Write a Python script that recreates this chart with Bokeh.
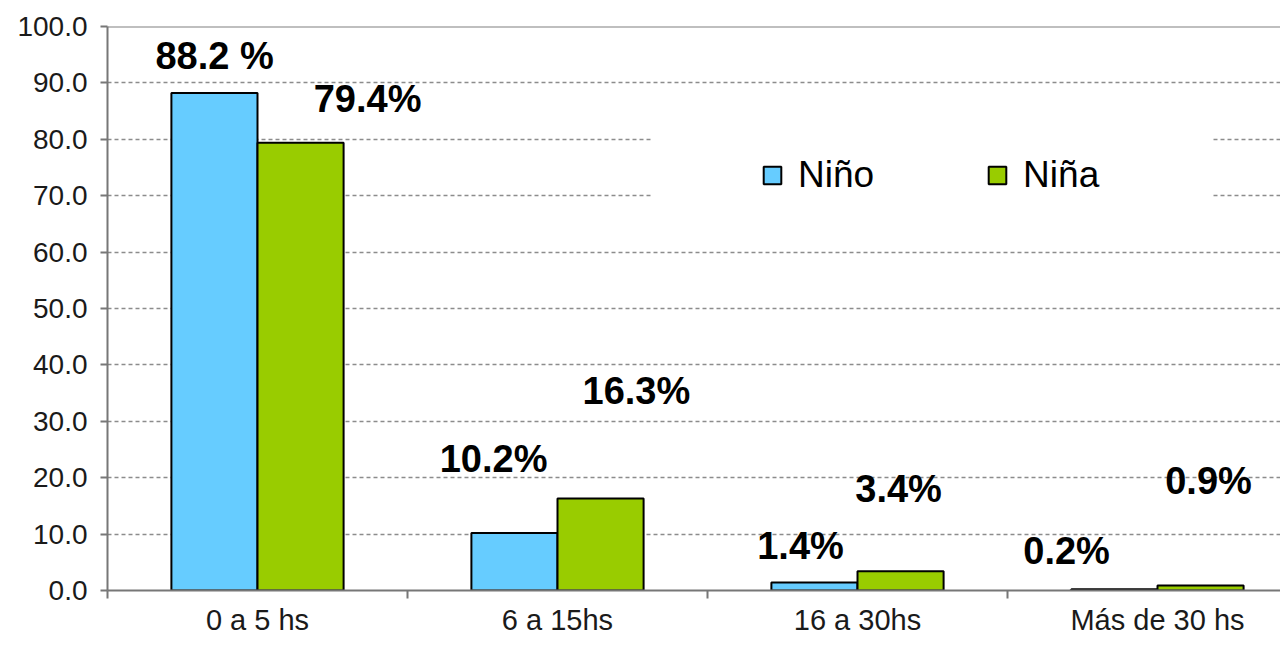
from bokeh.plotting import figure
from bokeh.models import (ColumnDataSource, Range1d, FixedTicker, NumeralTickFormatter,
                          Legend, LegendItem, Span, BoxAnnotation)
from bokeh.transform import dodge
from bokeh.embed import file_html
from bokeh.resources import INLINE
from bokeh.core.properties import value

# ---- data ----
categories = ["0 a 5 hs", "6 a 15hs", "16 a 30hs", "Más de 30 hs"]
nino = [88.2, 10.2, 1.4, 0.2]
nina = [79.4, 16.3, 3.4, 0.9]
series_names = ["Niño", "Niña"]
y_ticks = [0, 10, 20, 30, 40, 50, 60, 70, 80, 90, 100]

# bar-value labels (text) and their placement in data coordinates
label_texts = ["88.2 %", "79.4%", "10.2%", "16.3%", "1.4%", "3.4%", "0.2%", "0.9%"]
label_x = [0.357, 0.867, 1.287, 1.763, 2.310, 2.637, 3.197, 3.670]
label_y = [94.7, 87.2, 23.3, 35.3, 7.95, 18.0, 7.07, 19.4]

BLUE = "#66CCFF"
GREEN = "#99CC00"
FONT = "Liberation Sans"

centers = [i + 0.5 for i in range(len(categories))]
src = ColumnDataSource(dict(x=centers, nino=nino, nina=nina))
lbl_src = ColumnDataSource(dict(x=label_x, y=label_y, t=label_texts))

p = figure(width=1280, height=638,
           x_range=Range1d(0, 3.91), y_range=Range1d(0, 100),
           output_backend="svg", toolbar_location=None,
           min_border_left=107, min_border_right=0,
           min_border_top=26, min_border_bottom=46)
p.outline_line_color = None
p.background_fill_color = "white"

# grid
p.xgrid.visible = False
p.ygrid.ticker = FixedTicker(ticks=y_ticks[1:-1])
p.ygrid.grid_line_color = "#8c8c8c"
p.ygrid.grid_line_dash = "4 3"
p.ygrid.grid_line_width = 1.5

# top border line
p.add_layout(Span(location=100, dimension="width", line_color="#808080", line_width=2))

# white box behind legend
p.add_layout(BoxAnnotation(left=1.817, right=3.683, bottom=63.1, top=85.2,
                           fill_color="white", fill_alpha=1.0, line_color=None))

r1 = p.vbar(x=dodge("x", -0.1435, range=p.x_range), top="nino", width=0.287, source=src,
            fill_color=BLUE, line_color="black", line_width=2)
r2 = p.vbar(x=dodge("x", 0.1435, range=p.x_range), top="nina", width=0.287, source=src,
            fill_color=GREEN, line_color="black", line_width=2)

p.text(x="x", y="y", text="t", source=lbl_src, text_align="center", text_baseline="middle",
       text_font=value(FONT), text_font_size="38px", text_font_style="bold", text_color="black")

# y axis
ya = p.yaxis[0]
ya.ticker = FixedTicker(ticks=y_ticks)
ya.formatter = NumeralTickFormatter(format="0.0")
ya.axis_line_color = "#777777"
ya.axis_line_width = 2
ya.major_tick_line_color = "#777777"
ya.major_tick_line_width = 2
ya.major_tick_out = 7
ya.major_tick_in = 0
ya.minor_tick_line_color = None
ya.major_label_text_font = FONT
ya.major_label_text_font_size = "28px"
ya.major_label_text_color = "#1a1a1a"
ya.major_label_standoff = 13

# x axis
xa = p.xaxis[0]
xa.ticker = FixedTicker(ticks=centers, minor_ticks=[float(i) for i in range(len(categories) + 1)])
xa.major_label_overrides = {c: name for c, name in zip(centers, categories)}
xa.axis_line_color = "#777777"
xa.axis_line_width = 2
xa.major_tick_line_color = None
xa.major_tick_out = 0
xa.major_tick_in = 0
xa.minor_tick_line_color = "#777777"
xa.minor_tick_line_width = 2
xa.minor_tick_out = 8
xa.minor_tick_in = 0
xa.major_label_text_font = FONT
xa.major_label_text_font_size = "29px"
xa.major_label_text_color = "#1a1a1a"
xa.major_label_standoff = 5

legend = Legend(items=[LegendItem(label=series_names[0], renderers=[r1]),
                       LegendItem(label=series_names[1], renderers=[r2])],
                orientation="horizontal", location=(654, 394),
                glyph_width=22, glyph_height=22, label_standoff=15, spacing=112,
                padding=0, margin=0, border_line_color=None, background_fill_alpha=0,
                label_text_font=FONT, label_text_font_size="37px", label_text_color="black")
p.add_layout(legend)

open("out.html", "w").write(file_html(p, INLINE))
